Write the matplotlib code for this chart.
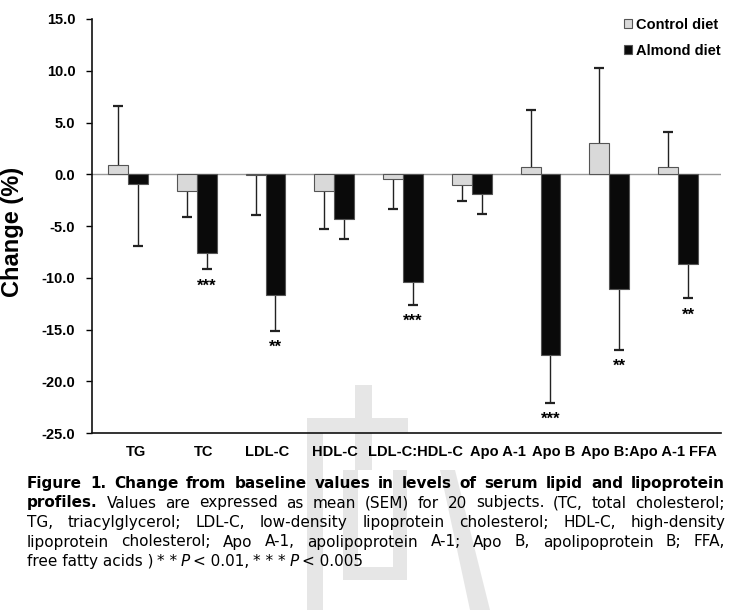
import numpy as np
import matplotlib
matplotlib.use('Agg')
import matplotlib.pyplot as plt
from matplotlib.patches import Rectangle, Polygon

# data (% change from baseline, mean and SEM)
categories = ['TG', 'TC', 'LDL-C', 'HDL-C', 'LDL-C:HDL-C', 'Apo A-1', 'Apo B',
              'Apo B:Apo A-1', 'FFA']
control_mean = [0.9, -1.6, -0.1, -1.65, -0.5, -1.0, 0.7, 3.0, 0.7]
control_sem = [5.7, 2.5, 3.85, 3.65, 2.9, 1.6, 5.55, 7.3, 3.4]
almond_mean = [-0.9, -7.6, -11.65, -4.35, -10.4, -1.95, -17.5, -11.1, -8.7]
almond_sem = [6.0, 1.6, 3.45, 1.95, 2.2, 1.9, 4.6, 5.9, 3.3]
almond_signif = ['', '***', '**', '', '***', '', '***', '**', '**']

# the category labels in the original sit a bit right of the bars (pixels)
label_shift = [8, 7, 2, 1, 12, 26, 13, 24, 25]

W, H = 739, 610
chart_font = ['Liberation Sans', 'DejaVu Sans']
cap_font = ['DejaVu Sans']
plt.rcParams['font.family'] = chart_font

fig = plt.figure(figsize=(W / 100, H / 100), dpi=100)
wm_color = '#e6e6e6'


def px_rect(x0, y0, x1, y1):
    # watermark piece, in pixel coords from the top left
    fig.patches.append(Rectangle((x0 / W, 1 - y1 / H), (x1 - x0) / W, (y1 - y0) / H,
                                 transform=fig.transFigure, color=wm_color, lw=0,
                                 zorder=-1))


# faint watermark behind the chart
px_rect(355, 385, 372, 470)
px_rect(307, 418, 408, 433)
px_rect(307, 433, 323, 610)
px_rect(343, 470, 358, 580)
px_rect(343, 567, 407, 580)
px_rect(393, 470, 407, 580)
fig.patches.append(Polygon([(440 / W, 1 - 470 / H), (455 / W, 1 - 470 / H),
                            (490 / W, 1 - 610 / H), (470 / W, 1 - 610 / H)],
                           transform=fig.transFigure, color=wm_color, lw=0, zorder=-1))

ax = fig.add_axes([92 / W, 1 - 433 / H, (721 - 92) / W, (433 - 19) / H])
ax.patch.set_alpha(0)

x = np.arange(len(categories))
w = 0.29

ax.axhline(0, color='#9a9a9a', lw=1, zorder=1)
ax.bar(x - w / 2, control_mean, w, color='#d9d9d9', edgecolor='#555555', linewidth=0.8,
       label='Control diet', zorder=2)
ax.bar(x + w / 2, almond_mean, w, color='#0a0a0a', edgecolor='#555555', linewidth=0.8,
       label='Almond diet', zorder=2)

# one-sided error bars (pointing away from zero)
for xs, m, s in [(x - w / 2, control_mean, control_sem), (x + w / 2, almond_mean, almond_sem)]:
    m = np.array(m)
    ends = m + np.sign(m) * np.array(s)
    ax.vlines(xs, m, ends, color='#222222', lw=1, zorder=1)
    ax.plot(xs, ends, ls='none', marker='_', ms=7, mew=1.6, color='#222222', zorder=1)

# significance marks under the almond bars
a_ends = np.array(almond_mean) - np.array(almond_sem)
for i, s in enumerate(almond_signif):
    if s:
        ax.text(x[i] + w / 2, a_ends[i] - 1.6, s, ha='center', va='center',
                fontsize=12, fontweight='bold')

ax.set_xlim(-0.524, 8.625)
ax.set_ylim(-25, 15)
ax.set_yticks(np.arange(-25, 16, 5))
ax.set_yticklabels(['%.1f' % v for v in np.arange(-25, 16, 5)], fontsize=10.5,
                   fontweight='bold')
ax.set_xticks(x)
ax.tick_params(axis='x', length=0, labelbottom=False)
ax.tick_params(axis='y', length=4, width=1, direction='out', pad=8)

# category labels under each group, nudged like in the original
for i, cat in enumerate(categories):
    ax.annotate(cat, xy=(x[i], 0), xycoords=('data', 'axes fraction'),
                xytext=(label_shift[i] * 0.72, -19 * 0.72), textcoords='offset points',
                ha='center', va='center', fontsize=10.5, fontweight='bold')

for side in ['top', 'right']:
    ax.spines[side].set_visible(False)
for side in ['left', 'bottom']:
    ax.spines[side].set_linewidth(1.2)
    ax.spines[side].set_color('#111111')

ax.legend(loc='upper right', bbox_to_anchor=(0.975, 1 - 18 / H), bbox_transform=fig.transFigure,
          frameon=False, handlelength=0.55, handleheight=0.55, handletextpad=0.3,
          labelspacing=0.8, borderpad=0, borderaxespad=0,
          prop={'size': 10.5, 'weight': 'bold'})

fig.text(13 / W, 1 - 232 / H, 'Change (%)', rotation=90, ha='center', va='center',
         fontsize=17, fontweight='bold')

# caption, justified word by word like in the thesis
cap_lines = [
    [(wd, {'fontweight': 'bold'}) for wd in
     'Figure 1. Change from baseline values in levels of serum lipid and lipoprotein'.split()],
    [('profiles.', {'fontweight': 'bold'})] + [(wd, {}) for wd in
     'Values are expressed as mean (SEM) for 20 subjects. (TC, total cholesterol;'.split()],
    [(wd, {}) for wd in
     'TG, triacylglycerol; LDL-C, low-density lipoprotein cholesterol; HDL-C, high-density'.split()],
    [(wd, {}) for wd in
     'lipoprotein cholesterol; Apo A-1, apolipoprotein A-1; Apo B, apolipoprotein B; FFA,'.split()],
    [('free fatty acids )', {}), ('* *', {}), ('P', {'fontstyle': 'italic'}),
     ('< 0.01,', {}), ('* * *', {}), ('P', {'fontstyle': 'italic'}), ('< 0.005', {})],
]
cap_base = [488, 507.5, 527, 546.5, 566]
left, right = 27, 725
renderer = fig.canvas.get_renderer()
for n, (tokens, yy) in enumerate(zip(cap_lines, cap_base)):
    texts = [fig.text(0, 1 - yy / H, s, ha='left', va='baseline', fontsize=11,
                      family=cap_font, **kw) for s, kw in tokens]
    widths = [t.get_window_extent(renderer).width for t in texts]
    if n < len(cap_lines) - 1:
        gap = (right - left - sum(widths)) / (len(widths) - 1)
    else:
        gap = 3.5
    xpos = left
    for t, wd in zip(texts, widths):
        t.set_x(xpos / W)
        xpos += wd + gap

fig.savefig('out.png', dpi=100)
